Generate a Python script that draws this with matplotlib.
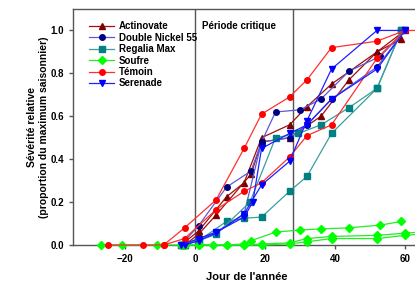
import matplotlib.pyplot as plt

plt.rcParams['font.family'] = ['Liberation Sans', 'DejaVu Sans']

# jours et severite relative (plusieurs courbes par traitement)
actinovate_jours = [[-4, 1, 9, 14, 19, 27, 32, 39, 52, 60],
                    [-3, 1, 6, 16, 19, 27, 36, 44, 52, 59]]
actinovate_sev = [[0, 0.065, 0.225, 0.29, 0.5, 0.56, 0.645, 0.75, 0.9, 1.0],
                  [0, 0.05, 0.14, 0.33, 0.48, 0.5, 0.6, 0.77, 0.9, 0.96]]

nickel_jours = [[-4, 1, 9, 16, 19, 23, 30, 36, 44, 53, 60],
                [-3, 6, 14, 19, 27, 32, 39, 52, 60]]
nickel_sev = [[0, 0.09, 0.27, 0.345, 0.48, 0.62, 0.63, 0.68, 0.81, 0.88, 1.0],
              [0, 0.06, 0.145, 0.48, 0.5, 0.56, 0.68, 0.83, 1.0]]

regalia_jours = [[-3, 1, 9, 14, 19, 27, 32, 39, 52, 59],
                 [-4, 1, 6, 15.7, 23, 29.5, 36, 44, 52, 59]]
regalia_sev = [[0, 0.02, 0.11, 0.125, 0.13, 0.25, 0.32, 0.52, 0.73, 1.0],
               [0, 0.02, 0.05, 0.2, 0.5, 0.52, 0.56, 0.64, 0.73, 1.0]]

soufre_jours = [[-27, -21, -11, -3, 5, 9, 14, 16, 23, 30, 36, 44, 53, 59],
                [-4, 1, 9, 14, 19, 27, 32, 39, 52, 60, 64],
                [-3, 1, 14, 19, 27, 32, 39, 52, 60, 64]]
soufre_sev = [[0, 0, 0, 0, 0, 0, 0.005, 0.02, 0.06, 0.07, 0.075, 0.08, 0.093, 0.11],
              [0, 0, 0, 0, 0.005, 0.01, 0.03, 0.04, 0.045, 0.055, 0.06],
              [0, 0, 0, 0, 0.005, 0.015, 0.03, 0.03, 0.045, 0.05]]

temoin_jours = [[-25, -15, -9, -3, 6, 14, 19, 27, 32, 39, 52, 60, 64],
                [-9, -3, 6, 14, 19, 27, 32, 39, 52, 60]]
temoin_sev = [[0, 0, 0, 0.08, 0.21, 0.45, 0.61, 0.69, 0.77, 0.92, 0.95, 1.0, 1.0],
              [0, 0.03, 0.165, 0.25, 0.29, 0.41, 0.51, 0.56, 0.87, 1.0]]

serenade_jours = [[-3, 1, 6, 14, 19, 27, 32, 39, 52, 60],
                  [-4, 1, 6, 14, 16.5, 19, 27, 32, 39, 52, 60]]
serenade_sev = [[0, 0.02, 0.055, 0.145, 0.28, 0.39, 0.58, 0.82, 1.0, 1.0],
                [0, 0.03, 0.06, 0.13, 0.2, 0.45, 0.52, 0.56, 0.68, 0.82, 1.0]]

fig = plt.figure(figsize=(4.15, 2.83), dpi=100)
ax = fig.add_axes([73 / 415, 38 / 283, 347 / 415, 236 / 283])

series = [
    ('Actinovate', actinovate_jours, actinovate_sev, '#a01010', '#800000', '^'),
    ('Double Nickel 55', nickel_jours, nickel_sev, '#5a5ad8', '#000080', 'o'),
    ('Regalia Max', regalia_jours, regalia_sev, '#3a9e9e', '#008080', 's'),
    ('Soufre', soufre_jours, soufre_sev, '#22ee22', '#00ff00', 'D'),
    ('Témoin', temoin_jours, temoin_sev, '#ff3030', '#ff0000', 'o'),
    ('Serenade', serenade_jours, serenade_sev, '#2020ff', '#0000ff', 'v'),
]

for nom, jours, sev, lc, mc, mk in series:
    for i in range(len(jours)):
        ax.plot(jours[i], sev[i], color=lc, lw=0.9, marker=mk, ms=4,
                mfc=mc, mec=mc, clip_on=False, zorder=3,
                label=nom if i == 0 else None)

ax.axvline(0, color='#555555', lw=1, zorder=2)
ax.axvline(28, color='#555555', lw=1, zorder=2)
ax.text(2, 1.02, 'Période critique', fontsize=7, fontweight='bold',
        va='center', ha='left')

ax.set_xlim(-34.9, 64.3)
ax.set_ylim(0, 1.1)
ax.set_xticks([-20, 0, 20, 40, 60])
ax.set_yticks([0, 0.2, 0.4, 0.6, 0.8, 1.0])
ax.set_yticklabels(['0.0', '0.2', '0.4', '0.6', '0.8', '1.0'])
for s in ax.spines.values():
    s.set_color('#555555')
    s.set_linewidth(1)
ax.tick_params(labelsize=7, length=3, color='#555555', width=1)
for lab in ax.get_xticklabels() + ax.get_yticklabels():
    lab.set_fontweight('bold')

ax.set_xlabel("Jour de l'année", fontsize=8, fontweight='bold', labelpad=6)
ax.set_ylabel('Sévérité relative\n(proportion du maximum saisonnier)',
              fontsize=7.5, fontweight='bold', labelpad=1)

ax.legend(loc='upper left', bbox_to_anchor=(0.035, 0.965), frameon=False,
          prop={'size': 7, 'weight': 'bold'}, handlelength=2.6,
          labelspacing=0.15, handletextpad=0.5, borderaxespad=0)

fig.savefig('out.png', dpi=100)
